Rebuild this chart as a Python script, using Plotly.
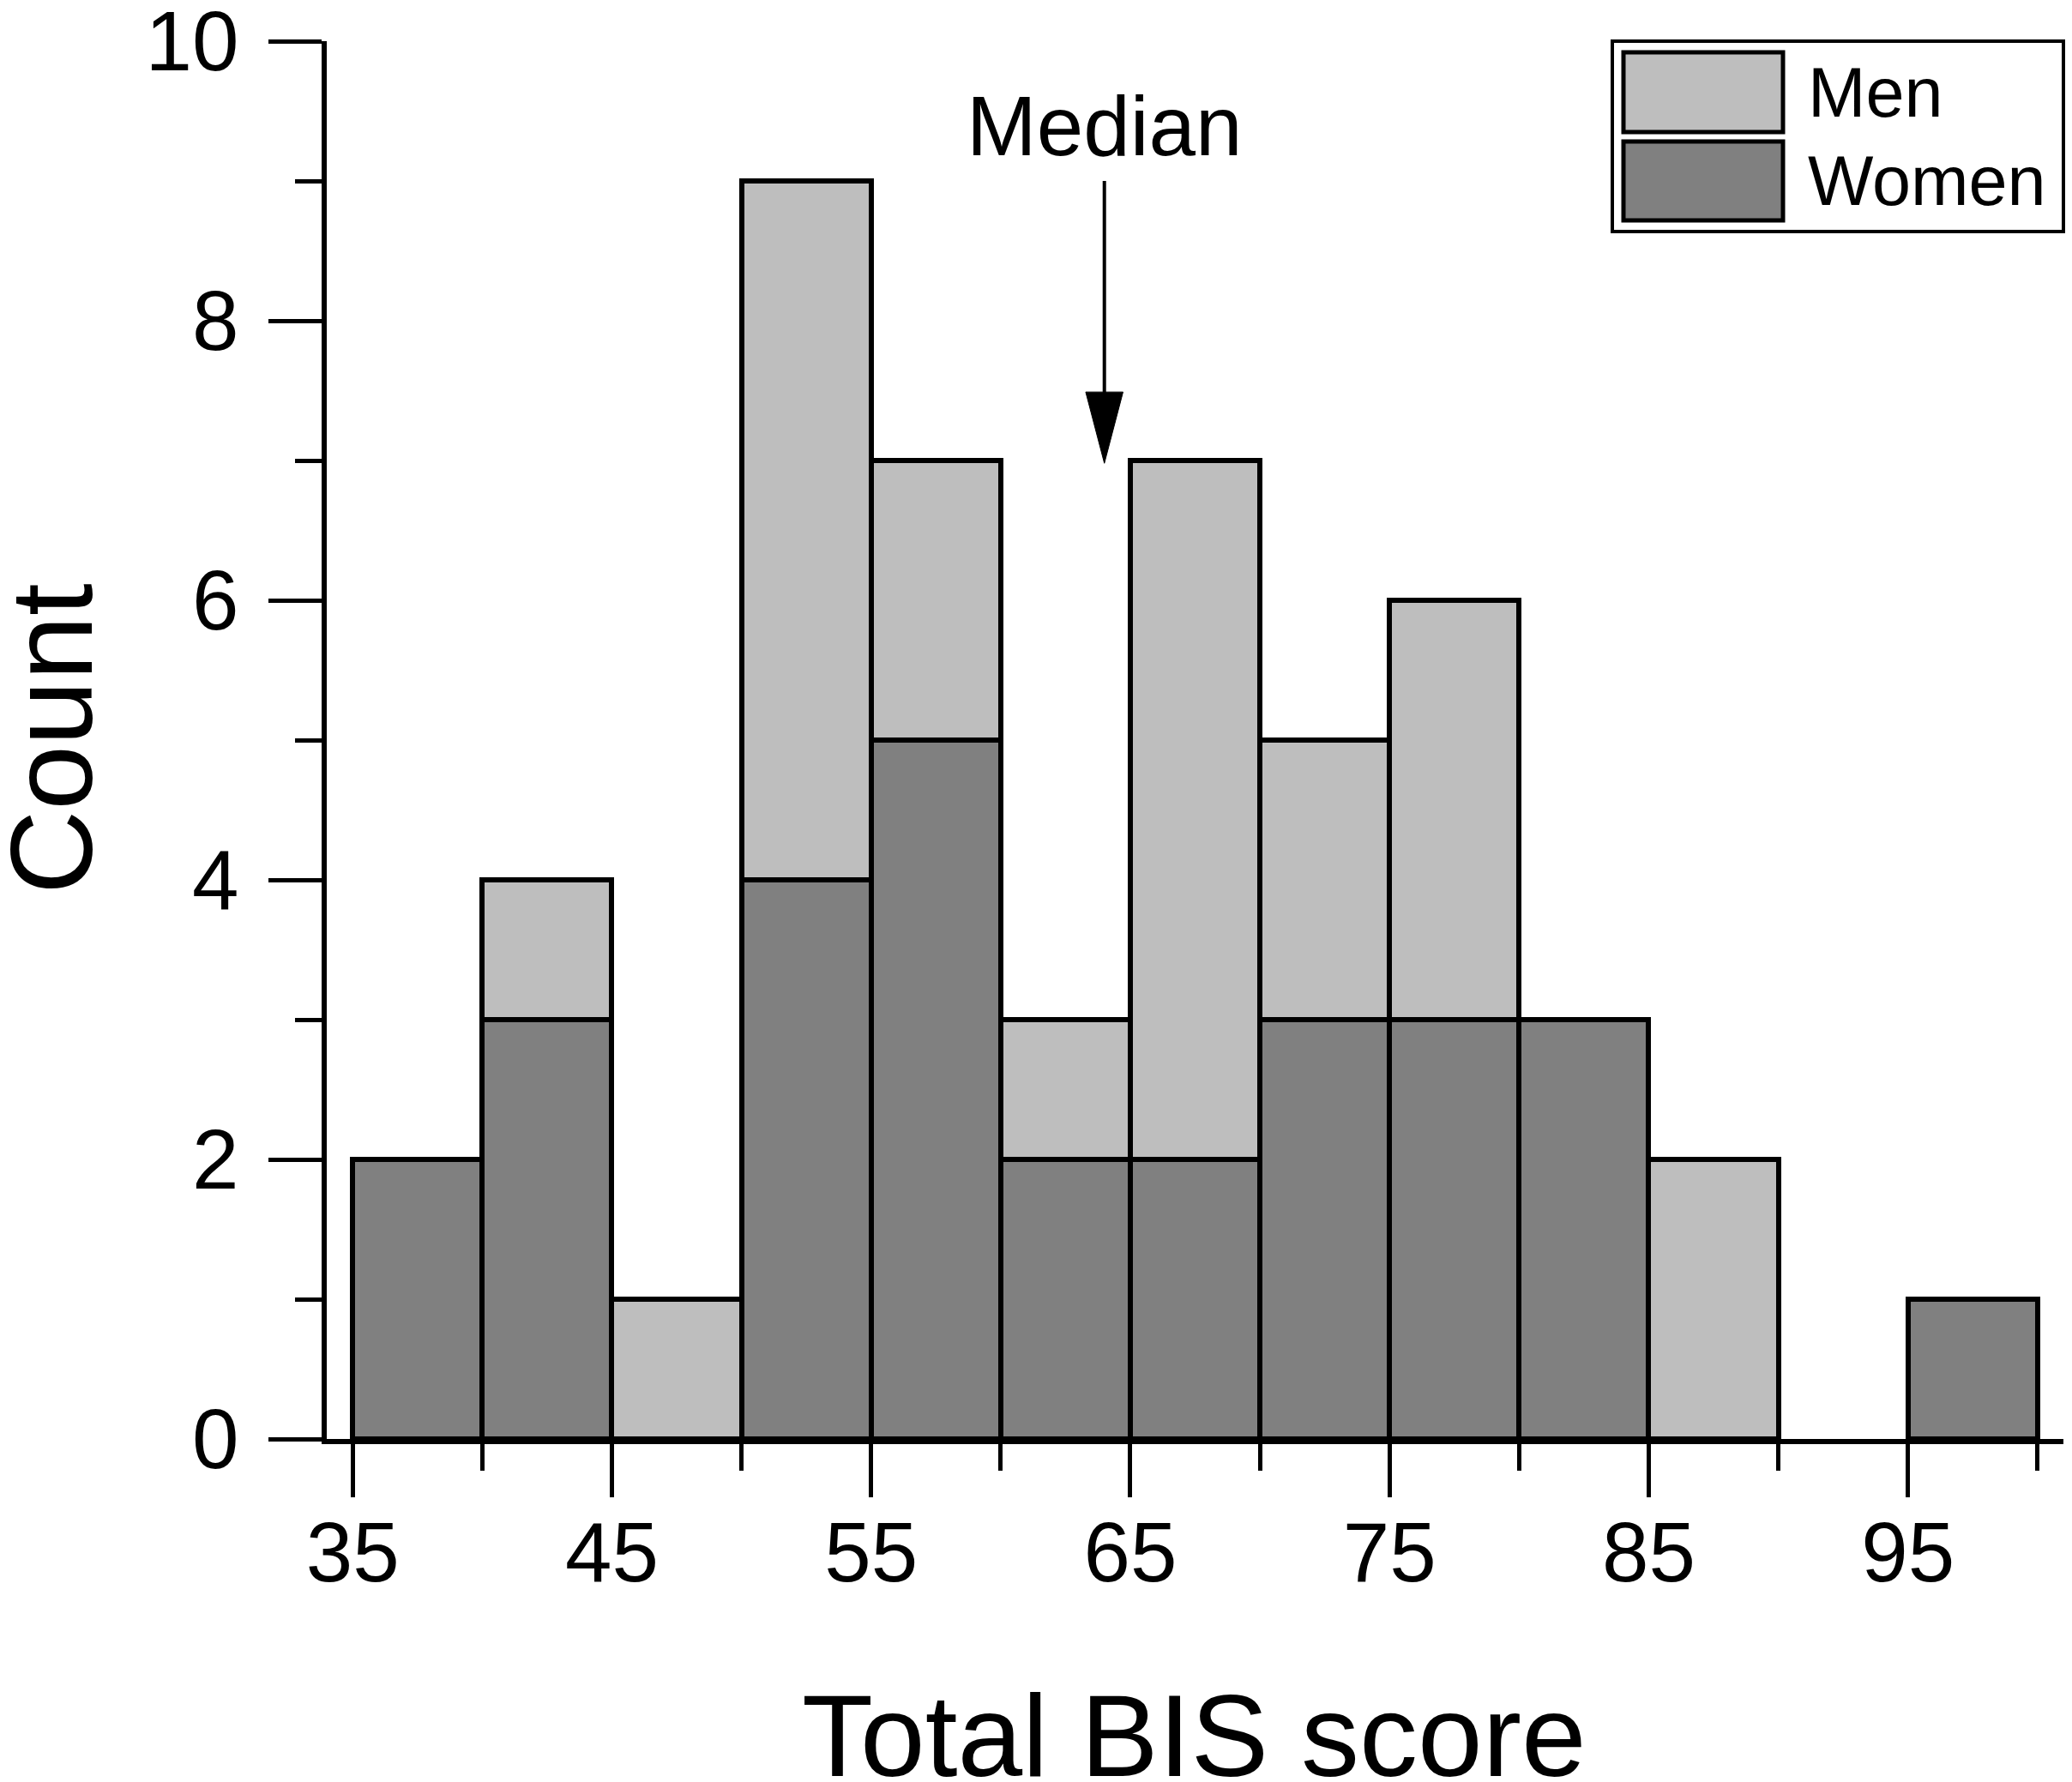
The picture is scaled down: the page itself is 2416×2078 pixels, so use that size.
import plotly.graph_objects as go

# histogram of Total BIS score, 5-point bins
bin_starts = [35, 40, 45, 50, 55, 60, 65, 70, 75, 80, 85, 90, 95]
bin_width = 5
women = [2, 3, 0, 4, 5, 2, 2, 3, 3, 3, 0, 0, 1]
men = [0, 1, 1, 5, 2, 1, 5, 2, 3, 0, 2, 0, 0]

median_score = 64

x_ticks = [35, 45, 55, 65, 75, 85, 95]
y_ticks = [0, 2, 4, 6, 8, 10]

LIGHT = "#bebebe"
DARK = "#808080"
FONT = "Liberation Sans, Arial, sans-serif"

# page body adds an 8px margin, so the figure is a bit smaller than the window
OFF = 8
W, H = 2408, 2070
L, R, T, B = 373, 10, 40, 400


def px(x):
    # absolute page pixel -> paper x
    return (x - OFF - L) / (W - L - R)


def py(y):
    # absolute page pixel -> paper y
    return (H - B - (y - OFF)) / (H - T - B)


centers = [s + bin_width / 2 for s in bin_starts]
nz = lambda vals: [v if v else None for v in vals]

fig = go.Figure()
fig.add_trace(go.Bar(x=centers, y=nz(women), width=bin_width, name="Women",
                     marker=dict(color=DARK, line=dict(color="black", width=6))))
fig.add_trace(go.Bar(x=centers, y=nz(men), width=bin_width, name="Men",
                     marker=dict(color=LIGHT, line=dict(color="black", width=6))))

fig.update_layout(
    width=W, height=H,
    margin=dict(l=L, r=R, t=T, b=B),
    barmode="stack",
    showlegend=False,
    paper_bgcolor="white",
    plot_bgcolor="white",
    font=dict(family=FONT, color="black"),
)

fig.update_xaxes(
    range=[34, 101], showgrid=False, zeroline=False, automargin=False,
    showline=True, linewidth=6, linecolor="black",
    ticks="outside", ticklen=62, tickwidth=5, tickcolor="black",
    tickvals=x_ticks, tickfont=dict(size=98, family=FONT),
    ticklabelstandoff=-20, ticklabeloverflow="allow",
    minor=dict(ticks="outside", ticklen=31, tickwidth=5, tickcolor="black",
               tickvals=[40, 50, 60, 70, 80, 90, 100]),
)
fig.update_yaxes(
    range=[0, 10], showgrid=False, zeroline=False, automargin=False,
    showline=True, linewidth=6, linecolor="black",
    ticks="outside", ticklen=62, tickwidth=5, tickcolor="black",
    tickvals=y_ticks, tickfont=dict(size=98, family=FONT),
    ticklabelstandoff=15, ticklabeloverflow="allow",
    minor=dict(ticks="outside", ticklen=31, tickwidth=5, tickcolor="black",
               tickvals=[1, 3, 5, 7, 9]),
)

# axis titles
fig.add_annotation(text="Total BIS score", xref="paper", yref="paper",
                   x=px(1392), y=py(2024), xanchor="center", yanchor="middle",
                   showarrow=False, font=dict(size=136, family=FONT))
fig.add_annotation(text="Count", xref="paper", yref="paper", textangle=-90,
                   x=px(60), y=py(862), xanchor="center", yanchor="middle",
                   showarrow=False, font=dict(size=136, family=FONT))

# median marker
fig.add_annotation(text="Median", x=median_score, y=9.39, xref="x", yref="y",
                   xanchor="center", yanchor="middle", showarrow=False,
                   font=dict(size=98, family=FONT))
fig.add_shape(type="line", x0=median_score, x1=median_score, y0=9.0, y1=7.4,
              xref="x", yref="y", line=dict(color="black", width=4))
hw = 0.72
fig.add_shape(type="path", xref="x", yref="y",
              path=f"M {median_score - hw},7.49 L {median_score + hw},7.49 L {median_score},6.98 Z",
              fillcolor="black", line=dict(color="black", width=1))

# legend box
fig.add_shape(type="rect", xref="paper", yref="paper",
              x0=px(1880), x1=px(2406), y0=py(270), y1=py(48),
              line=dict(color="black", width=4), fillcolor="white")
for label, color, y0, y1 in [("Men", LIGHT, 61, 154), ("Women", DARK, 165, 257)]:
    fig.add_shape(type="rect", xref="paper", yref="paper",
                  x0=px(1893), x1=px(2079), y0=py(y1), y1=py(y0),
                  line=dict(color="black", width=5), fillcolor=color)
    fig.add_annotation(text=label, xref="paper", yref="paper",
                       x=px(2106), y=py((y0 + y1) / 2), xanchor="left", yanchor="middle",
                       showarrow=False, font=dict(size=81, family=FONT))

fig.write_html("out.html")
